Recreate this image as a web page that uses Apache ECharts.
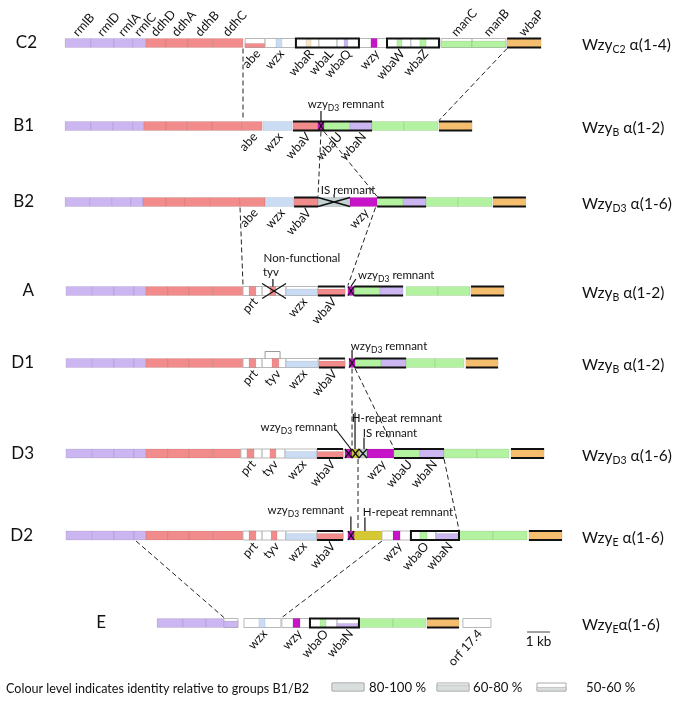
<!DOCTYPE html>
<html><head><meta charset="utf-8">
<script src="https://cdn.jsdelivr.net/npm/echarts@6/dist/echarts.min.js"></script>
<style>html,body{margin:0;padding:0;background:#fff}#c{width:682px;height:705px}</style>
</head><body><div id="c"></div>
<script>
// ---------------- DATA ----------------
const rowNames = ['C2','B1','B2','A','D1','D3','D2','E'];
const wzyType  = ['C2','B','D3','B','B','D3','E','E'];
const linkage  = [' α(1-4)',' α(1-2)',' α(1-6)',' α(1-2)',' α(1-2)',' α(1-6)',' α(1-6)','α(1-6)'];

// gene: [name, start kb, end kb, family, identity level (3=80-100%,2=60-80%,1=50-60%,0=none), label above]
const genesC2 = [
  ['rmlB',0.00,1.13,'P',3,1],['rmlD',1.13,2.13,'P',3,1],['rmlA',2.13,2.96,'P',3,1],['rmlC',2.96,3.52,'P',3,1],
  ['ddhD',3.52,4.39,'R',3,1],['ddhA',4.39,5.35,'R',3,1],['ddhB',5.35,6.43,'R',3,1],['ddhC',6.43,7.74,'R',3,1],
  ['abe',7.83,8.70,'R',1],['',8.70,10.04,'W',0],['wzx',9.17,9.43,'B',3],
  ['',10.04,11.04,'W',0],['wbaR',10.48,10.70,'E',3],['wbaL',11.04,11.83,'W',0],['',11.83,12.78,'W',0],['wbaQ',12.13,12.30,'L',3],
  ['',12.78,14.00,'W',0],['wzy',13.30,13.57,'M',3],
  ['',14.00,15.04,'W',0],['wbaW',14.43,14.65,'G',3],['',15.04,16.26,'W',0],['wbaZ',15.43,15.70,'G',3],
  ['manC',16.35,17.70,'G',2,1],['manB',17.70,19.17,'G',2,1],['wbaP',19.22,20.70,'O',3,1]
];
const genesB1 = [
  ['',0.00,1.13,'P',3],['',1.13,2.09,'P',3],['',2.09,2.96,'P',3],['',2.96,3.43,'P',3],
  ['',3.43,4.39,'R',3],['',4.39,5.30,'R',3],['',5.30,6.39,'R',3],['',6.39,7.70,'R',3],
  ['abe',7.70,8.57,'R',3],['wzx',8.61,9.87,'B',3],['wbaV',9.91,11.00,'R',3],
  ['wbaU',11.26,12.39,'G',3],['wbaN',12.39,13.35,'L',3],
  ['',13.35,14.74,'G',3],['',14.74,16.22,'G',3],['',16.26,17.70,'O',3]
];
const genesB2 = [
  ['',0.00,1.09,'P',3],['',1.09,2.04,'P',3],['',2.04,2.87,'P',3],['',2.87,3.39,'P',3],
  ['',3.39,4.39,'R',3],['',4.39,5.22,'R',3],['',5.22,6.30,'R',3],['',6.30,7.61,'R',3],
  ['abe',7.61,8.70,'R',3],['wzx',8.70,9.96,'B',3],['wbaV',9.96,11.00,'R',3],
  ['wzy',12.39,13.57,'M',3],['',13.57,14.70,'G',3],['',14.70,15.70,'L',3],
  ['',15.70,17.09,'G',3],['',17.09,18.57,'G',3],['',18.61,20.04,'O',3]
];
const genesA = [
  ['',0.04,1.17,'P',3],['',1.17,2.13,'P',3],['',2.13,3.00,'P',3],['',3.00,3.52,'P',3],
  ['',3.52,4.48,'R',3],['',4.48,5.39,'R',3],['',5.39,6.43,'R',3],['',6.43,7.74,'R',3],
  ['',7.74,8.57,'W',0],['prt',8.00,8.30,'R',3],['',8.57,9.61,'W',0],['',8.91,9.17,'R',3],
  ['wzx',9.61,11.00,'B',2],['wbaV',11.00,12.17,'R',2],
  ['',12.57,13.70,'G',3],['',13.70,14.70,'L',3],
  ['',14.83,16.22,'G',3],['',16.22,17.61,'G',3],['',17.65,19.09,'O',3]
];
const genesD1 = [
  ['',0.04,1.17,'P',3],['',1.17,2.13,'P',3],['',2.13,3.00,'P',3],['',3.00,3.52,'P',3],
  ['',3.52,4.48,'R',3],['',4.48,5.39,'R',3],['',5.39,6.43,'R',3],['',6.43,7.74,'R',3],
  ['',7.74,8.57,'W',0],['prt',8.00,8.30,'R',3],['',8.57,9.61,'W',0],['tyv',9.00,9.30,'R',3],
  ['wzx',9.61,11.00,'B',2],['wbaV',11.04,12.17,'R',2],
  ['',12.61,13.74,'G',3],['',13.74,14.83,'L',3],
  ['',14.83,16.09,'G',3],['',16.09,17.35,'G',3],['',17.43,18.83,'O',3]
];
const genesD3 = [
  ['',0.04,1.17,'P',3],['',1.17,2.13,'P',3],['',2.13,3.00,'P',3],['',3.00,3.52,'P',3],
  ['',3.52,4.48,'R',3],['',4.48,5.39,'R',3],['',5.39,6.43,'R',3],['',6.43,7.65,'R',3],
  ['',7.65,8.57,'W',0],['prt',7.91,8.22,'R',3],['',8.57,9.57,'W',0],['tyv',8.91,9.17,'R',3],
  ['wzx',9.57,10.96,'B',2],['wbaV',10.96,12.09,'R',2],
  ['wzy',13.13,14.30,'M',3],['wbaU',14.30,15.43,'G',3],['wbaN',15.43,16.48,'L',3],
  ['',16.48,17.91,'G',3],['',17.91,19.30,'G',3],['',19.39,20.83,'O',3]
];
const genesD2 = [
  ['',0.04,1.17,'P',3],['',1.17,2.13,'P',3],['',2.13,3.00,'P',3],['',3.00,3.52,'P',3],
  ['',3.52,4.48,'R',3],['',4.48,5.39,'R',3],['',5.39,6.43,'R',3],['',6.43,7.74,'R',3],
  ['',7.74,8.57,'W',0],['prt',8.00,8.30,'R',3],['',8.57,9.61,'W',0],['tyv',8.96,9.22,'R',3],
  ['wzx',9.61,10.96,'B',2],['wbaV',10.96,12.09,'R',2],
  ['',12.57,13.78,'Y',3],['',13.78,15.04,'W',0],['wzy',14.26,14.57,'M',3],
  ['',15.04,16.13,'W',0],['wbaO',15.43,15.74,'G',3],['wbaN',16.13,17.13,'L',2],
  ['',17.13,18.61,'G',3],['',18.61,20.09,'G',3],['',20.17,21.61,'O',3]
];
const genesE = [
  ['',4.00,5.13,'P',3],['',5.13,6.13,'P',3],['',6.13,6.91,'P',3],['',6.91,7.52,'P',2],
  ['',7.78,9.39,'W',0],['wzx',8.43,8.70,'B',3],
  ['',9.43,10.65,'W',0],['wzy',9.91,10.22,'M',3],
  ['',10.65,11.83,'W',0],['wbaO',11.09,11.35,'G',3],['wbaN',11.83,12.78,'L',1],
  ['',12.78,14.26,'G',3],['',14.26,15.70,'G',3],['',15.74,17.13,'O',3],
  ['orf 17.4',17.30,18.52,'W',0]
];
const geneRows = [genesC2, genesB1, genesB2, genesA, genesD1, genesD3, genesD2, genesE];

// framed blocks: [row, start kb, end kb, kind]
const frames = [
  [0,10.04,12.78,'box'],[0,14.00,16.26,'box'],[0,19.22,20.70,'tb'],
  [1,9.91,13.35,'tb'],[1,16.26,17.70,'tb'],
  [2,9.96,11.00,'tb'],[2,13.57,15.70,'tb'],[2,18.61,20.04,'tb'],
  [3,11.00,12.17,'tb'],[3,12.57,14.70,'tb'],[3,17.65,19.09,'tb'],
  [4,11.04,12.17,'tb'],[4,12.61,14.83,'tb'],[4,17.43,18.83,'tb'],
  [5,10.96,12.09,'tb'],[5,14.30,16.48,'tb'],[5,19.39,20.83,'tb'],
  [6,10.96,12.09,'tb'],[6,15.04,17.13,'box'],[6,20.17,21.61,'tb'],
  [7,10.65,12.78,'box'],[7,15.74,17.13,'tb']
];
// remnants / disrupted genes: [row, start kb, end kb, family]
const crosses = [
  [1,11.00,11.26,'M'],[2,11.00,12.39,'S'],[3,8.57,9.61,''],[3,12.30,12.57,'M'],
  [4,12.35,12.61,'M'],[5,12.17,12.48,'M'],[5,12.48,12.78,'Y'],[5,12.78,13.13,'S'],[6,12.30,12.57,'M']
];
// homology links: [from row, kb, to row, kb]
const links = [
  [0,7.74,1,7.74],[0,19.22,1,16.26],[1,11.13,2,11.00],[1,11.26,2,13.57],
  [2,7.61,3,7.74],[2,13.50,3,12.30],[4,12.48,5,12.48],[4,12.61,5,14.30],
  [5,12.74,6,12.74],[5,16.48,6,17.13],[6,3.09,7,6.91],[6,13.78,7,9.43]
];
// annotations: [row, kb, text]
const annotations = [
  [1,11.13,'wzy_D3 remnant'],[2,11.70,'IS remnant'],[3,9.04,'Non-functional'],[3,9.04,'tyv'],
  [3,12.43,'wzy_D3 remnant'],[4,12.48,'wzy_D3 remnant'],[5,12.43,'wzy_D3 remnant'],
  [5,12.61,'H-repeat remnant'],[5,13.00,'IS remnant'],[6,12.43,'wzy_D3 remnant'],[6,13.04,'H-repeat remnant']
];
const brackets = [[4,8.70,9.35]];
const scaleBar = [[20.09, 1]]; // start kb, length kb
const legendItems = ['80-100 %','60-80 %','50-60 %'];
const legendTitle = 'Colour level indicates identity relative to groups B1/B2';

// ---------------- LAYOUT / STYLE ----------------
const ROW_Y = [43,126,202,291,363,453.5,535.5,623];
const PX_PER_KB = 23, ORIGIN_PX = 65;
const H = 9;
const COL = {P:'#CBB6F2',R:'#F28C8C',B:'#CADCF4',G:'#B2F2A0',L:'#CBB6F2',O:'#F5BE6E',M:'#C814C8',Y:'#D6C833',S:'#C4D2D4',E:'#F5E4C6',W:'#ffffff'};
const FRAC = [0,0.45,0.72,1];
const FONT = 'Lato, "Open Sans", sans-serif';
const ANG = 48*Math.PI/180;
const LEFT_LABEL_RIGHT = [37,34,34,34,34,34,33,106];
// [text dx, text dy, align, line-from dx, line-from dy] relative to tick point (x) and row centre (y)
const ANN_LAYOUT = [
  [25,-22,'center',0,-15],[14,-12,'center',0,-8],[29,-33,'center',null,null],[-2,-19,'center',0,-12],
  [7,-16,'left',5,-12],[37,-17,'center',0,-13],[-52,-26.5,'center',-15,-24],
  [42,-35.5,'center',0,-41],[26,-20.5,'center',0,-16],[-45,-25.5,'center',0,-19],[43,-23.5,'center',0,-18]
];

function rich(text){
  const m = text.match(/^(\w+)_(\w+)(.*)$/);
  if (!m) return '{t|'+text+'}';
  return '{t|'+m[1]+'}{s|'+m[2]+'}{t|'+m[3]+'}';
}
const ANN_RICH = {
  t:{fontSize:11.5,fontFamily:FONT,fill:'#111',lineHeight:16},
  s:{fontSize:8.5,fontFamily:FONT,fill:'#111',lineHeight:16,padding:[9,0,0,0]}
};

const geneItems = [];
geneRows.forEach((list,r)=>list.forEach(g=>geneItems.push({row:r,name:g[0],s:g[1],e:g[2],fam:g[3],lvl:g[4],up:!!g[5]})));

function geneRender(params, api){
  const g = geneItems[params.dataIndex];
  const a = api.coord([api.value(0), api.value(1)]);
  const b = api.coord([api.value(2), api.value(1)]);
  const x=a[0], w=b[0]-a[0], top=a[1]-H/2;
  const ch=[];
  if (g.fam==='W' || g.lvl<3) ch.push({type:'rect',shape:{x:x,y:top,width:w,height:H},style:{fill:'#fff',stroke:'#b8b8b8',lineWidth:1}});
  if (g.fam!=='W'){ const fh=H*FRAC[g.lvl]; ch.push({type:'rect',shape:{x:x,y:top+H-fh,width:w,height:fh},style:{fill:COL[g.fam],stroke:'rgba(0,0,0,0.10)',lineWidth:0.8}}); }
  if (g.name){
    const cx=x+w/2;
    ch.push({type:'text',x:g.up?cx-3:cx+3,y:g.up?top-4:top+H+4,rotation:ANG,z2:10,
      style:{text:g.name,font:'12.5px '+FONT,fill:'#111',align:g.up?'left':'right',verticalAlign:'middle'}});
  }
  return {type:'group',children:ch};
}
function frameRender(params, api){
  const f = frames[params.dataIndex];
  const a = api.coord([api.value(0), api.value(1)]), b = api.coord([api.value(2), api.value(1)]);
  const top=a[1]-H/2, bot=a[1]+H/2;
  if (f[3]==='box') return {type:'rect',shape:{x:a[0],y:top,width:b[0]-a[0],height:H},style:{fill:'none',stroke:'#111',lineWidth:2}};
  return {type:'group',children:[
    {type:'line',shape:{x1:a[0],y1:top,x2:b[0],y2:top},style:{stroke:'#111',lineWidth:2}},
    {type:'line',shape:{x1:a[0],y1:bot,x2:b[0],y2:bot},style:{stroke:'#111',lineWidth:2}}]};
}
function crossRender(params, api){
  const c = crosses[params.dataIndex];
  const a = api.coord([api.value(0), api.value(1)]), b = api.coord([api.value(2), api.value(1)]);
  const ext = c[3]?0:3, top=a[1]-H/2-ext, bot=a[1]+H/2+ext;
  const ch=[];
  if (c[3]) ch.push({type:'rect',shape:{x:a[0],y:a[1]-H/2,width:b[0]-a[0],height:H},style:{fill:COL[c[3]],stroke:'rgba(0,0,0,0.15)',lineWidth:0.8}});
  ch.push({type:'line',shape:{x1:a[0],y1:top,x2:b[0],y2:bot},style:{stroke:'#111',lineWidth:1.3}});
  ch.push({type:'line',shape:{x1:a[0],y1:bot,x2:b[0],y2:top},style:{stroke:'#111',lineWidth:1.3}});
  return {type:'group',children:ch};
}
function linkRender(params, api){
  const a = api.coord([api.value(0), api.value(1)]), b = api.coord([api.value(2), api.value(3)]);
  return {type:'line',shape:{x1:a[0],y1:a[1]+H/2+1,x2:b[0],y2:b[1]-H/2-1},style:{stroke:'#222',lineWidth:1,lineDash:[5,3]}};
}
function annRender(params, api){
  const an = annotations[params.dataIndex], L = ANN_LAYOUT[params.dataIndex];
  const p = api.coord([api.value(0), api.value(1)]);
  const ch=[{type:'text',x:p[0]+L[0],y:p[1]+L[1],style:{text:rich(an[2]),rich:ANN_RICH,align:L[2],verticalAlign:'middle'}}];
  if (L[3]!==null) ch.push({type:'line',shape:{x1:p[0]+L[3],y1:p[1]+L[4],x2:p[0],y2:p[1]-H/2},style:{stroke:'#111',lineWidth:1.2}});
  return {type:'group',children:ch};
}
function bracketRender(params, api){
  const a = api.coord([api.value(0), api.value(1)]), b = api.coord([api.value(2), api.value(1)]);
  const top=a[1]-H/2;
  return {type:'polyline',shape:{points:[[a[0],top],[a[0],top-7],[b[0],top-7],[b[0],top]]},style:{fill:'none',stroke:'#9a9a9a',lineWidth:1}};
}
function rowLabelRender(params, api){
  const i = params.dataIndex;
  const p = api.coord([api.value(0), api.value(1)]);
  return {type:'group',children:[
    {type:'text',x:LEFT_LABEL_RIGHT[i],y:p[1],style:{text:rowNames[i],font:'17px '+FONT,fill:'#111',align:'right',verticalAlign:'middle'}},
    {type:'text',x:582,y:p[1]+2,style:{text:'{w|Wzy}{s|'+wzyType[i]+'}{w|'+linkage[i]+'}',align:'left',verticalAlign:'middle',
      rich:{w:{fontSize:15.5,fontFamily:FONT,fill:'#111',lineHeight:22},s:{fontSize:10.5,fontFamily:FONT,fill:'#111',lineHeight:22,padding:[10,0,0,0]}}}}
  ]};
}
function scaleRender(params, api){
  const a = api.coord([api.value(0), api.value(1)]), b = api.coord([api.value(0)+api.value(2), api.value(1)]);
  const y=a[1]+9;
  return {type:'group',children:[
    {type:'line',shape:{x1:a[0],y1:y,x2:b[0],y2:y},style:{stroke:'#444',lineWidth:1}},
    {type:'text',x:(a[0]+b[0])/2,y:y+10,style:{text:'1 kb',font:'13.5px '+FONT,fill:'#111',align:'center',verticalAlign:'middle'}}]};
}

const legendGraphic = [
  {type:'text',x:6,y:689,style:{text:legendTitle,font:'12.6px '+FONT,fill:'#111',verticalAlign:'middle'}}
];
const SW = [[332,32,1],[437,32,0.75],[537,29,0.45]], LT=[369,473,586];
SW.forEach((s,i)=>{
  legendGraphic.push({type:'rect',shape:{x:s[0],y:683,width:s[1],height:8},style:{fill:'#fff',stroke:'#aaa',lineWidth:1}});
  legendGraphic.push({type:'rect',shape:{x:s[0],y:683+8*(1-s[2]),width:s[1],height:8*s[2]},style:{fill:'#D8DDDD',stroke:'#aaa',lineWidth:0.6}});
  legendGraphic.push({type:'text',x:LT[i],y:688,style:{text:legendItems[i],font:'13.2px '+FONT,fill:'#111',verticalAlign:'middle'}});
});

const chart = echarts.init(document.getElementById('c'), null, {renderer:'canvas'});
const base = {type:'custom',coordinateSystem:'cartesian2d',animation:false,clip:false,silent:true};
chart.setOption({
  animation:false,
  grid:{left:0,right:0,top:0,bottom:0},
  xAxis:{type:'value',min:-ORIGIN_PX/PX_PER_KB,max:(682-ORIGIN_PX)/PX_PER_KB,show:false},
  yAxis:{type:'value',inverse:true,min:0,max:705,show:false},
  graphic:legendGraphic,
  series:[
    Object.assign({},base,{name:'links',renderItem:linkRender,data:links.map(l=>[l[1],ROW_Y[l[0]],l[3],ROW_Y[l[2]]]),encode:{x:[0,2],y:[1,3]}}),
    Object.assign({},base,{name:'genes',renderItem:geneRender,data:geneItems.map(g=>[g.s,ROW_Y[g.row],g.e]),encode:{x:[0,2],y:1}}),
    Object.assign({},base,{name:'crosses',renderItem:crossRender,data:crosses.map(c=>[c[1],ROW_Y[c[0]],c[2]]),encode:{x:[0,2],y:1}}),
    Object.assign({},base,{name:'frames',renderItem:frameRender,data:frames.map(f=>[f[1],ROW_Y[f[0]],f[2]]),encode:{x:[0,2],y:1}}),
    Object.assign({},base,{name:'brackets',renderItem:bracketRender,data:brackets.map(b=>[b[1],ROW_Y[b[0]],b[2]]),encode:{x:[0,2],y:1}}),
    Object.assign({},base,{name:'annotations',renderItem:annRender,data:annotations.map(a=>[a[1],ROW_Y[a[0]]]),encode:{x:0,y:1}}),
    Object.assign({},base,{name:'rows',renderItem:rowLabelRender,data:rowNames.map((r,i)=>[0,ROW_Y[i]]),encode:{x:0,y:1}}),
    Object.assign({},base,{name:'scale',renderItem:scaleRender,data:scaleBar.map(s=>[s[0],ROW_Y[7],s[1]]),encode:{x:0,y:1}})
  ]
});
</script></body></html>
